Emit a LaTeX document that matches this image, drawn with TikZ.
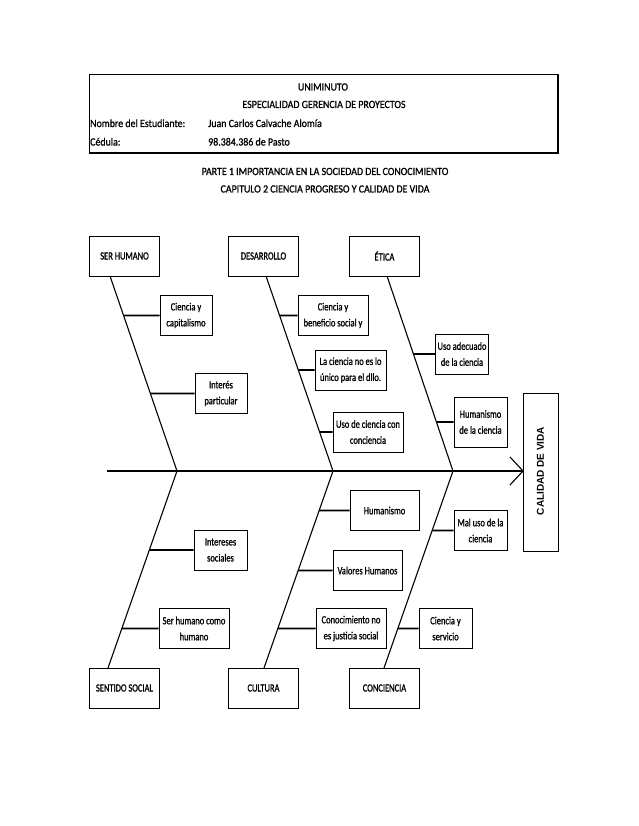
\documentclass[tikz,border=0pt]{standalone}
\usepackage{fontspec}
\setmainfont{Carlito}
\newfontfamily\hdrfont{Carlito}[FakeStretch=0.9,FakeBold=1]
\newfontfamily\bxfont{Carlito}[FakeStretch=0.77,FakeBold=1]
\newfontfamily\efffont{Liberation Sans}
\begin{document}
\begin{tikzpicture}[x=1pt,y=-1pt,
  hdr/.style={font=\hdrfont\fontsize{11}{15}\selectfont, inner sep=0pt},
  catbox/.style={draw, line width=0.9pt, minimum width=70pt, minimum height=40pt, inner sep=0pt,
     font=\bxfont\fontsize{11}{16}\selectfont},
  subbox/.style={draw, line width=0.9pt, minimum height=40pt, inner sep=0pt, align=center,
     font=\bxfont\fontsize{11}{16}\selectfont},
  bone/.style={line width=1.1pt},
  conn/.style={line width=1.9pt},
  spine/.style={line width=1.1pt}]
\useasboundingbox (0,0) rectangle (638,826);

% header
\coordinate (h1) at (89,74);
\coordinate (h2) at (558,153);
\draw[line width=0.7pt] (h1) rectangle (h2);
\draw[line width=2.2pt] (h1 |- h2) -- (h2) -- (h2 |- h1);
\node[hdr, anchor=base] (t1) at (323,90.5) {UNIMINUTO};
\node[hdr, anchor=base] (t2) at (324,108) {ESPECIALIDAD GERENCIA DE PROYECTOS};
\node[hdr, anchor=base west] (t3) at (90,127) {Nombre del Estudiante:};
\node[hdr, anchor=base west] (t4) at (208,127) {Juan Carlos Calvache Alomía};
\node[hdr, anchor=base west] (t5) at (90,145.5) {Cédula:};
\node[hdr, anchor=base west] (t6) at (208,145.5) {98.384.386 de Pasto};
\node[hdr, anchor=base] (t7) at (325,175) {PARTE 1 IMPORTANCIA EN LA SOCIEDAD DEL CONOCIMIENTO};
\node[hdr, anchor=base] (t8) at (325,192.5) {CAPITULO 2 CIENCIA PROGRESO Y CALIDAD DE VIDA};

% effect
\node[draw, line width=0.9pt, minimum width=35pt, minimum height=158pt, inner sep=0pt] (eff) at (540.5,472) {};
\node[rotate=90, font=\efffont\bfseries\fontsize{10}{12}\selectfont, inner sep=0pt] (efft) at (540.5,471) {CALIDAD DE VIDA};

% spine
\coordinate (tail) at (107,471);
\coordinate (head) at (523,471);
\draw[spine] (tail) -- (head);
\coordinate (ch1) at (510,457);
\coordinate (ch2) at (510,485);
\draw[spine] (ch1) -- (head) -- (ch2);

% category boxes
\node[catbox] (sh) at (124.5,256) {SER HUMANO};
\node[catbox] (des) at (263.5,256) {DESARROLLO};
\node[catbox] (eti) at (384.5,256) {ÉTICA};
\node[catbox] (ss) at (124.5,688) {SENTIDO SOCIAL};
\node[catbox] (cul) at (263.5,688) {CULTURA};
\node[catbox] (con) at (384.5,688) {CONCIENCIA};

% bones
\coordinate (a1) at (110,276); \coordinate (j1) at (177,471);
\coordinate (a2) at (266,276); \coordinate (j2) at (333,471);
\coordinate (a3) at (387,276); \coordinate (j3) at (453,471);
\coordinate (a4) at (108,668);
\coordinate (a5) at (264,668);
\coordinate (a6) at (384,668);
\draw[bone] (a1) -- (j1) -- (a4);
\draw[bone] (a2) -- (j2) -- (a5);
\draw[bone] (a3) -- (j3) -- (a6);

% sub boxes top
\node[subbox, minimum width=52pt] (s1) at (186,315.5) {Ciencia y\\capitalismo};
\node[subbox, minimum width=52pt] (s2) at (221,393.5) {Interés\\particular};
\node[subbox, minimum width=70pt] (s3) at (333,315.5) {Ciencia y\\beneficio social y};
\node[subbox, minimum width=71pt] (s4) at (350.5,370) {La ciencia no es lo\\único para el dllo.};
\node[subbox, minimum width=70pt] (s5) at (368,432) {Uso de ciencia con\\conciencia};
\node[subbox, minimum width=53pt] (s6) at (462,354) {Uso adecuado\\de la ciencia};
\node[subbox, minimum width=53pt, minimum height=50pt] (s7) at (480.5,422) {Humanismo\\de la ciencia};

% sub boxes bottom
\node[subbox, minimum width=69pt] (s8) at (384.5,510.5) {Humanismo};
\node[subbox, minimum width=53pt] (s9) at (480.5,530.5) {Mal uso de la\\ciencia};
\node[subbox, minimum width=53pt] (s10) at (220.5,550) {Intereses\\sociales};
\node[subbox, minimum width=70pt] (s11) at (194,628.5) {Ser humano como\\humano};
\node[subbox, minimum width=69pt] (s12) at (367.5,570.5) {Valores Humanos};
\node[subbox, minimum width=70pt] (s13) at (351,628.5) {Conocimiento no\\es justicia social};
\node[subbox, minimum width=53pt] (s14) at (445.5,628.5) {Ciencia y\\servicio};

% connectors
\draw[conn] (s1.west) -- (intersection of a1--j1 and s1.west--s1.east);
\draw[conn] (s2.west) -- (intersection of a1--j1 and s2.west--s2.east);
\draw[conn] (s3.west) -- (intersection of a2--j2 and s3.west--s3.east);
\draw[conn] (s4.west) -- (intersection of a2--j2 and s4.west--s4.east);
\draw[conn] (s5.west) -- (intersection of a2--j2 and s5.west--s5.east);
\draw[conn] (s6.west) -- (intersection of a3--j3 and s6.west--s6.east);
\draw[conn] (s7.west) -- (intersection of a3--j3 and s7.west--s7.east);
\draw[conn] (s8.west) -- (intersection of j2--a5 and s8.west--s8.east);
\draw[conn] (s9.west) -- (intersection of j3--a6 and s9.west--s9.east);
\draw[conn] (s10.west) -- (intersection of j1--a4 and s10.west--s10.east);
\draw[conn] (s11.west) -- (intersection of j1--a4 and s11.west--s11.east);
\draw[conn] (s12.west) -- (intersection of j2--a5 and s12.west--s12.east);
\draw[conn] (s13.west) -- (intersection of j2--a5 and s13.west--s13.east);
\draw[conn] (s14.west) -- (intersection of j3--a6 and s14.west--s14.east);
\end{tikzpicture}
\end{document}
